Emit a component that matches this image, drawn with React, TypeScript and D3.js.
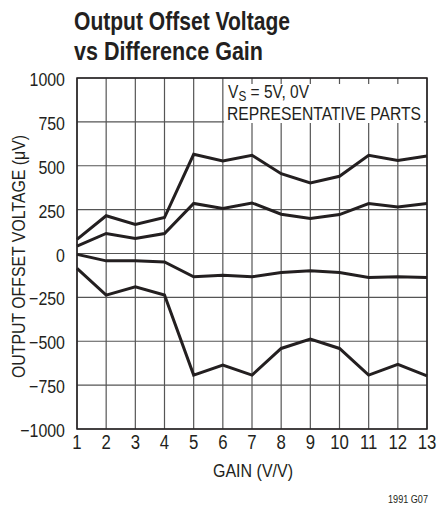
import React from "react";
import * as d3 from "d3";

const gains = [1, 2, 3, 4, 5, 6, 7, 8, 9, 10, 11, 12, 13];
const partA = [80, 215, 165, 205, 565, 527, 560, 455, 402, 440, 560, 530, 556];
const partB = [42, 114, 85, 114, 285, 256, 288, 224, 199, 222, 285, 265, 285];
const partC = [-5, -42, -42, -48, -133, -124, -133, -108, -99, -108, -137, -133, -137];
const partD = [-85, -237, -190, -237, -693, -636, -693, -541, -488, -541, -693, -632, -697];
const series = [partA, partB, partC, partD];
const yTicks = [-1000, -750, -500, -250, 0, 250, 500, 750, 1000];
const yTickLabels = ["\u22121000", "\u2212750", "\u2212500", "\u2212250", "0", "250", "500", "750", "1000"];

const FONT = "'Liberation Sans', Arial, sans-serif";
const INK = "#231f20";

function CText(props: { x: number; y: number; sx?: number; size: number; anchor?: string; weight?: string; children: React.ReactNode }) {
  const sx = props.sx ?? 0.84;
  return (
    <text
      transform={`translate(${props.x},${props.y}) scale(${sx},1)`}
      fontSize={props.size}
      textAnchor={props.anchor || "start"}
      fontWeight={props.weight || "normal"}
      fill={INK}
    >
      {props.children}
    </text>
  );
}

export default function App() {
  const W = 437, H = 512;
  const left = 77, right = 427, top = 78, bottom = 429;
  const x = d3.scaleLinear().domain([1, 13]).range([left, right]);
  const y = d3.scaleLinear().domain([-1000, 1000]).range([bottom, top]);
  const line = d3.line<number>().x((_, i) => x(gains[i])).y((d) => y(d));

  return (
    <svg width={W} height={H} style={{ position: "absolute", left: 0, top: 0, background: "#fff" }} fontFamily={FONT}>
      <rect x={0} y={0} width={W} height={H} fill="#fff" />
      <text x={74} y={30} fontSize={26} fontWeight="bold" fill={INK} textLength={216} lengthAdjust="spacingAndGlyphs">Output Offset Voltage</text>
      <text x={74} y={60} fontSize={26} fontWeight="bold" fill={INK} textLength={189} lengthAdjust="spacingAndGlyphs">vs Difference Gain</text>
      {gains.map((g) => (
        <line key={"vx" + g} x1={x(g)} x2={x(g)} y1={top} y2={bottom} stroke="#555" strokeWidth={1.2} />
      ))}
      {yTicks.map((t) => (
        <line key={"hy" + t} x1={left} x2={right} y1={y(t)} y2={y(t)} stroke="#555" strokeWidth={1.2} />
      ))}
      <rect x={224} y={84} width={200} height={39} fill="#fff" />
      <rect x={left} y={top} width={right - left} height={bottom - top} fill="none" stroke={INK} strokeWidth={1.5} />
      {series.map((s, i) => (
        <path key={"s" + i} d={line(s) || ""} fill="none" stroke={INK} strokeWidth={3} strokeLinejoin="miter" />
      ))}
      <CText x={228} y={98} size={18.5} sx={0.84}>
        V<tspan fontSize={14} dy={3}>S</tspan><tspan dy={-3}> = 5V, 0V</tspan>
      </CText>
      <text x={227} y={120} fontSize={18.5} fill={INK} textLength={194} lengthAdjust="spacingAndGlyphs">REPRESENTATIVE PARTS</text>
      {yTicks.map((t, i) => (
        <CText key={"yl" + t} x={65} y={y(t) + 8} size={19} anchor="end">{yTickLabels[i]}</CText>
      ))}
      {gains.map((g) => (
        <CText key={"xl" + g} x={x(g)} y={449} size={19.5} anchor="middle" sx={0.86}>{g}</CText>
      ))}
      <text x={213} y={477} fontSize={19} fill={INK} textLength={80} lengthAdjust="spacingAndGlyphs">GAIN (V/V)</text>
      <text transform={`translate(25, 378) rotate(-90)`} fontSize={18.5} fill={INK} textLength={243} lengthAdjust="spacingAndGlyphs">OUTPUT OFFSET VOLTAGE (μV)</text>
      <text x={388} y={503} fontSize={10.5} fill={INK} textLength={40} lengthAdjust="spacingAndGlyphs">1991 G07</text>
    </svg>
  );
}
